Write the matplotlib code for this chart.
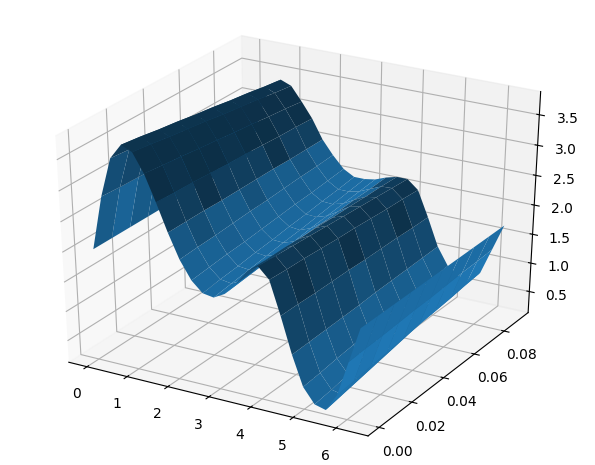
import matplotlib
matplotlib.use('Agg')
import matplotlib.pyplot as plt
import numpy as np

x_vals = [0.0, 0.26, 0.52, 0.79, 1.05, 1.31, 1.57, 1.83, 2.09, 2.36, 2.62, 2.88, 3.14,
          3.40, 3.67, 3.93, 4.19, 4.45, 4.71, 4.97, 5.24, 5.50, 5.76, 6.02, 6.28]
t_vals = [0.0, 0.01, 0.02, 0.03, 0.04, 0.05, 0.06, 0.07, 0.08, 0.09]

z_t0 = [2.0, 2.9, 3.55, 3.8, 3.72, 3.42, 3.0, 2.55, 2.15, 1.85, 1.68, 1.65, 1.75,
        1.95, 2.2, 2.33, 2.15, 1.6, 1.0, 0.5, 0.25, 0.2, 0.5, 1.1, 1.7]
z_t1 = [2.0, 2.88, 3.52, 3.76, 3.68, 3.38, 2.98, 2.55, 2.17, 1.88, 1.72, 1.69, 1.78,
        1.97, 2.19, 2.31, 2.13, 1.6, 1.01, 0.53, 0.29, 0.25, 0.53, 1.12, 1.7]
z_t2 = [2.0, 2.87, 3.48, 3.71, 3.63, 3.35, 2.97, 2.55, 2.18, 1.91, 1.75, 1.73, 1.81,
        1.98, 2.19, 2.29, 2.12, 1.59, 1.02, 0.57, 0.34, 0.3, 0.57, 1.13, 1.7]
z_t3 = [2.0, 2.85, 3.45, 3.67, 3.59, 3.31, 2.95, 2.54, 2.2, 1.93, 1.79, 1.77, 1.84,
        2.0, 2.18, 2.27, 2.1, 1.59, 1.03, 0.6, 0.38, 0.35, 0.6, 1.15, 1.7]
z_t4 = [2.0, 2.83, 3.42, 3.62, 3.55, 3.28, 2.93, 2.54, 2.22, 1.96, 1.82, 1.81, 1.87,
        2.02, 2.18, 2.25, 2.08, 1.59, 1.04, 0.63, 0.42, 0.4, 0.63, 1.17, 1.7]
z_t5 = [2.0, 2.82, 3.38, 3.58, 3.5, 3.24, 2.92, 2.54, 2.23, 1.99, 1.86, 1.84, 1.91,
        2.03, 2.17, 2.23, 2.07, 1.58, 1.06, 0.67, 0.47, 0.45, 0.67, 1.18, 1.7]
z_t6 = [2.0, 2.8, 3.35, 3.53, 3.46, 3.21, 2.9, 2.54, 2.25, 2.02, 1.89, 1.88, 1.94,
        2.05, 2.17, 2.21, 2.05, 1.58, 1.07, 0.7, 0.52, 0.5, 0.7, 1.2, 1.7]
z_t7 = [2.0, 2.78, 3.32, 3.49, 3.42, 3.17, 2.88, 2.53, 2.27, 2.04, 1.93, 1.92, 1.97,
        2.07, 2.16, 2.19, 2.03, 1.58, 1.08, 0.73, 0.56, 0.55, 0.73, 1.22, 1.7]
z_t8 = [2.0, 2.77, 3.28, 3.44, 3.37, 3.14, 2.87, 2.53, 2.28, 2.07, 1.96, 1.96, 2.0,
        2.08, 2.16, 2.17, 2.02, 1.57, 1.09, 0.77, 0.61, 0.6, 0.77, 1.23, 1.7]
z_t9 = [2.0, 2.75, 3.25, 3.4, 3.33, 3.1, 2.85, 2.53, 2.3, 2.1, 2.0, 2.0, 2.03,
        2.1, 2.15, 2.15, 2.0, 1.57, 1.1, 0.8, 0.65, 0.65, 0.8, 1.25, 1.7]

X, T = np.meshgrid(x_vals, t_vals)
Z = np.array([z_t0, z_t1, z_t2, z_t3, z_t4, z_t5, z_t6, z_t7, z_t8, z_t9])

fig = plt.figure(figsize=(5.95, 4.65), dpi=100)
ax = fig.add_axes([0.007, 0.03, 0.976, 0.933], projection='3d')
# let the 3d box stretch with the axes, like older matplotlib did
ax.apply_aspect = lambda position=None: ax._set_position(ax.get_position(original=True), 'active')
ax.set_box_aspect((1, 1, 1), zoom=1.0)
ax.plot_surface(X, T, Z, rstride=1, cstride=1)
ax.set_xticks([0, 1, 2, 3, 4, 5, 6])
ax.set_yticks([0.0, 0.02, 0.04, 0.06, 0.08])
ax.set_zticks([0.5, 1.0, 1.5, 2.0, 2.5, 3.0, 3.5])
fig.savefig('out.png', dpi=100)
